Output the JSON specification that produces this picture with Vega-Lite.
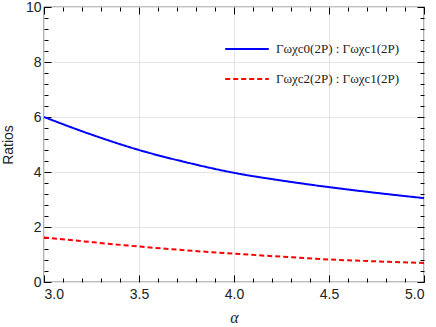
{
  "$schema": "https://vega.github.io/schema/vega-lite/v6.json",
  "width": 380,
  "height": 275,
  "autosize": "none",
  "padding": {"left": 44, "top": 7, "right": 12, "bottom": 45},
  "config": {
    "view": {"stroke": "black", "strokeWidth": 1.2},
    "axis": {
      "domain": false,
      "labelFont": "Liberation Sans",
      "labelFontSize": 14,
      "labelColor": "#222",
      "titleFont": "Liberation Sans",
      "titleFontSize": 14,
      "titleFontWeight": "normal",
      "titleColor": "#222",
      "tickColor": "black",
      "tickWidth": 1
    }
  },
  "data": {
    "values": [
      {"alpha": 3.0, "ratio": 6.0, "series": "A"},
      {"alpha": 3.25, "ratio": 5.36, "series": "A"},
      {"alpha": 3.5, "ratio": 4.8, "series": "A"},
      {"alpha": 3.75, "ratio": 4.35, "series": "A"},
      {"alpha": 4.0, "ratio": 3.97, "series": "A"},
      {"alpha": 4.25, "ratio": 3.69, "series": "A"},
      {"alpha": 4.5, "ratio": 3.45, "series": "A"},
      {"alpha": 4.75, "ratio": 3.24, "series": "A"},
      {"alpha": 5.0, "ratio": 3.05, "series": "A"},
      {"alpha": 3.0, "ratio": 1.62, "series": "B"},
      {"alpha": 3.25, "ratio": 1.45, "series": "B"},
      {"alpha": 3.5, "ratio": 1.29, "series": "B"},
      {"alpha": 3.75, "ratio": 1.15, "series": "B"},
      {"alpha": 4.0, "ratio": 1.03, "series": "B"},
      {"alpha": 4.25, "ratio": 0.92, "series": "B"},
      {"alpha": 4.5, "ratio": 0.82, "series": "B"},
      {"alpha": 4.75, "ratio": 0.75, "series": "B"},
      {"alpha": 5.0, "ratio": 0.69, "series": "B"}
    ]
  },
  "layer": [
    {
      "mark": {"type": "line", "strokeWidth": 2, "interpolate": "monotone"},
      "encoding": {
        "x": {
          "field": "alpha", "type": "quantitative",
          "scale": {"domain": [3, 5], "nice": false, "zero": false},
          "axis": {
            "orient": "bottom", "title": "α",
            "titleFont": "Liberation Serif", "titleFontStyle": "italic", "titleFontSize": 16,
            "titlePadding": 8,
            "values": [3, 3.5, 4, 4.5, 5], "format": ".1f",
            "grid": true, "gridColor": "#e4e4e4",
            "tickSize": -7, "tickColor": "#000", "tickWidth": 1, "labelPadding": 12
          }
        },
        "y": {
          "field": "ratio", "type": "quantitative",
          "scale": {"domain": [0, 10], "nice": false},
          "axis": {
            "orient": "left", "title": "Ratios",
            "values": [0, 2, 4, 6, 8, 10], "format": "d",
            "grid": true, "gridColor": "#e4e4e4",
            "tickSize": -7, "tickColor": "#000", "tickWidth": 1, "labelPadding": 10, "titlePadding": 10
          }
        },
        "color": {
          "field": "series", "type": "nominal",
          "scale": {"domain": ["A", "B"], "range": ["#0000ff", "#ff0000"]},
          "legend": {
            "title": null, "orient": "none", "legendX": 180, "legendY": 19,
            "symbolType": "stroke", "symbolSize": 1900, "symbolStrokeWidth": 2,
            "labelFont": "Liberation Serif", "labelFontSize": 13, "labelColor": "#222",
            "rowPadding": -19, "labelOffset": 6,
            "labelExpr": "datum.value == 'A' ? 'Γωχc0(2P) : Γωχc1(2P)' : 'Γωχc2(2P) : Γωχc1(2P)'"
          }
        },
        "strokeDash": {
          "field": "series", "type": "nominal",
          "scale": {"domain": ["A", "B"], "range": [[1, 0], [5, 3]]},
          "legend": {
            "title": null, "orient": "none", "legendX": 180, "legendY": 19,
            "symbolType": "stroke", "symbolSize": 1900, "symbolStrokeWidth": 2,
            "labelFont": "Liberation Serif", "labelFontSize": 13, "labelColor": "#222",
            "rowPadding": -19, "labelOffset": 6,
            "labelExpr": "datum.value == 'A' ? 'Γωχc0(2P) : Γωχc1(2P)' : 'Γωχc2(2P) : Γωχc1(2P)'"
          }
        }
      }
    },
    {
      "mark": {"type": "line", "opacity": 0},
      "encoding": {
        "x": {
          "field": "alpha", "type": "quantitative",
          "axis": {
            "orient": "bottom", "title": null, "labels": false, "grid": false,
            "values": [3.1, 3.2, 3.3, 3.4, 3.6, 3.7, 3.8, 3.9, 4.1, 4.2, 4.3, 4.4, 4.6, 4.7, 4.8, 4.9],
            "tickSize": 4, "offset": -4, "tickColor": "#000", "tickWidth": 1
          }
        },
        "y": {
          "field": "ratio", "type": "quantitative",
          "axis": {
            "orient": "left", "title": null, "labels": false, "grid": false,
            "values": [0.4, 0.8, 1.2, 1.6, 2.4, 2.8, 3.2, 3.6, 4.4, 4.8, 5.2, 5.6, 6.4, 6.8, 7.2, 7.6, 8.4, 8.8, 9.2, 9.6],
            "tickSize": 4, "offset": -4, "tickColor": "#000", "tickWidth": 1
          }
        }
      }
    },
    {
      "mark": {"type": "line", "opacity": 0},
      "encoding": {
        "x": {
          "field": "alpha", "type": "quantitative",
          "axis": {
            "orient": "top", "title": null, "labels": false, "grid": false,
            "values": [3, 3.5, 4, 4.5, 5], "tickSize": 7, "offset": -7, "tickColor": "#000", "tickWidth": 1
          }
        },
        "y": {
          "field": "ratio", "type": "quantitative",
          "axis": {
            "orient": "right", "title": null, "labels": false, "grid": false,
            "values": [0, 2, 4, 6, 8, 10], "tickSize": 7, "offset": -7, "tickColor": "#000", "tickWidth": 1
          }
        }
      }
    },
    {
      "mark": {"type": "line", "opacity": 0},
      "encoding": {
        "x": {
          "field": "alpha", "type": "quantitative",
          "axis": {
            "orient": "top", "title": null, "labels": false, "grid": false,
            "values": [3.1, 3.2, 3.3, 3.4, 3.6, 3.7, 3.8, 3.9, 4.1, 4.2, 4.3, 4.4, 4.6, 4.7, 4.8, 4.9],
            "tickSize": 4, "offset": -4, "tickColor": "#000", "tickWidth": 1
          }
        },
        "y": {
          "field": "ratio", "type": "quantitative",
          "axis": {
            "orient": "right", "title": null, "labels": false, "grid": false,
            "values": [0.4, 0.8, 1.2, 1.6, 2.4, 2.8, 3.2, 3.6, 4.4, 4.8, 5.2, 5.6, 6.4, 6.8, 7.2, 7.6, 8.4, 8.8, 9.2, 9.6],
            "tickSize": 4, "offset": -4, "tickColor": "#000", "tickWidth": 1
          }
        }
      }
    }
  ],
  "resolve": {"axis": {"x": "independent", "y": "independent"}}
}
